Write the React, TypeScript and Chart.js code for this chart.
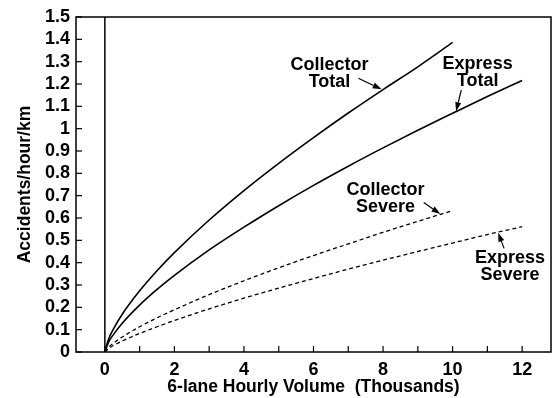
import React, { useEffect, useRef } from 'react';
import { Chart, registerables } from 'chart.js';

Chart.register(...registerables);

// Data
const volume = [0, 0.1, 0.25, 0.5, 1, 1.5, 2, 3, 4, 5, 6, 7, 8, 9, 10, 11, 12];
const collectorTotal = [0, 0.055, 0.104, 0.169, 0.274, 0.364, 0.445, 0.591, 0.723, 0.845, 0.96, 1.07, 1.175, 1.277, 1.386];
const expressTotal = [0, 0.042, 0.079, 0.129, 0.21, 0.28, 0.343, 0.457, 0.559, 0.655, 0.746, 0.832, 0.914, 0.993, 1.069, 1.144, 1.216];
const collectorSevere = [0, 0.02, 0.04, 0.067, 0.113, 0.153, 0.189, 0.257, 0.319, 0.377, 0.432, 0.484, 0.536, 0.585, 0.633];
const expressSevere = [0, 0.014, 0.029, 0.049, 0.083, 0.113, 0.141, 0.193, 0.241, 0.286, 0.329, 0.371, 0.411, 0.45, 0.488, 0.526, 0.561];

const xTicks = [0, 2, 4, 6, 8, 10, 12];
const yTitle = 'Accidents/hour/km';
const xTitle = '6-lane Hourly Volume  (Thousands)';

// Annotation labels (in data coordinates) and arrows
const labelLines = [['Collector', 'Total'], ['Express', 'Total'], ['Collector', 'Severe'], ['Express', 'Severe']];
const labelX = [6.46, 10.72, 8.07, 11.65];
const labelY = [1.285, 1.29, 0.726, 0.42];
const arrowFrom = [[7.29, 1.226], [10.25, 1.173], [9.17, 0.669], [11.48, 0.464]];
const arrowTo = [[7.96, 1.176], [10.1, 1.078], [9.65, 0.618], [11.31, 0.534]];

const FONT = '"Liberation Sans", Arial, Helvetica, sans-serif';

const toPts = (ys: number[]) => ys.map((y, i) => ({ x: volume[i], y }));

const decorPlugin = {
  id: 'decor',
  afterDraw(chart: any) {
    const { ctx, chartArea: a, scales } = chart;
    const xs = scales.x;
    const ys = scales.y;
    ctx.save();
    ctx.strokeStyle = '#000';
    ctx.fillStyle = '#000';
    // frame
    ctx.lineWidth = 1.5;
    ctx.strokeRect(a.left, a.top, a.right - a.left, a.bottom - a.top);
    // vertical line at x = 0
    const x0 = xs.getPixelForValue(0);
    ctx.beginPath();
    ctx.moveTo(x0, a.top);
    ctx.lineTo(x0, a.bottom);
    ctx.stroke();
    // inward ticks
    ctx.lineWidth = 1.2;
    for (let v = 0; v <= 12; v += 1) {
      const px = xs.getPixelForValue(v);
      ctx.beginPath();
      ctx.moveTo(px, a.bottom);
      ctx.lineTo(px, a.bottom - 6);
      ctx.stroke();
    }
    ys.ticks.forEach((t: any) => {
      const py = ys.getPixelForValue(t.value);
      ctx.beginPath();
      ctx.moveTo(a.left, py);
      ctx.lineTo(a.left + 6, py);
      ctx.stroke();
    });
    // labels
    ctx.font = `bold 18px ${FONT}`;
    ctx.textAlign = 'center';
    ctx.textBaseline = 'middle';
    labelLines.forEach((lines, i) => {
      const cx = xs.getPixelForValue(labelX[i]);
      const cy = ys.getPixelForValue(labelY[i]);
      lines.forEach((ln, j) => ctx.fillText(ln, cx, cy + j * 17));
    });
    // arrows
    ctx.lineWidth = 1.2;
    arrowFrom.forEach((f, i) => {
      const t = arrowTo[i];
      const x1 = xs.getPixelForValue(f[0]);
      const y1 = ys.getPixelForValue(f[1]);
      const x2 = xs.getPixelForValue(t[0]);
      const y2 = ys.getPixelForValue(t[1]);
      const ang = Math.atan2(y2 - y1, x2 - x1);
      const hl = 9;
      const hw = 3;
      const bx = x2 - hl * Math.cos(ang);
      const by = y2 - hl * Math.sin(ang);
      ctx.beginPath();
      ctx.moveTo(x1, y1);
      ctx.lineTo(bx, by);
      ctx.stroke();
      ctx.beginPath();
      ctx.moveTo(x2, y2);
      ctx.lineTo(bx + hw * Math.sin(ang), by - hw * Math.cos(ang));
      ctx.lineTo(bx - hw * Math.sin(ang), by + hw * Math.cos(ang));
      ctx.closePath();
      ctx.fill();
    });
    ctx.restore();
  },
};

export default function App() {
  const ref = useRef<HTMLCanvasElement>(null);
  useEffect(() => {
    document.body.style.margin = '0';
    const canvas = ref.current!;
    const line = (data: number[], dashed: boolean) => ({
      data: toPts(data),
      borderColor: '#000',
      borderWidth: dashed ? 1.3 : 1.6,
      borderDash: dashed ? [4, 3] : [],
      pointRadius: 0,
      fill: false,
      cubicInterpolationMode: 'monotone' as const,
    });
    const chart = new Chart(canvas, {
      type: 'line',
      data: {
        datasets: [
          line(collectorTotal, false),
          line(expressTotal, false),
          line(collectorSevere, true),
          line(expressSevere, true),
        ],
      },
      options: {
        animation: false,
        responsive: false,
        devicePixelRatio: 1,
        layout: { padding: { top: 17, right: 4, left: 0, bottom: 0 } },
        plugins: { legend: { display: false }, tooltip: { enabled: false } },
        scales: {
          x: {
            type: 'linear',
            min: -0.83,
            max: 12.83,
            afterBuildTicks: (s: any) => {
              s.ticks = xTicks.map((v) => ({ value: v }));
            },
            afterFit: (s: any) => {
              s.height = 46;
            },
            grid: { display: false, drawTicks: false },
            border: { display: false },
            ticks: {
              color: '#000',
              padding: 7,
              font: { family: FONT, size: 18, weight: 'bold' },
              callback: (v: any) => String(v),
            },
            title: {
              display: true,
              text: xTitle,
              color: '#000',
              font: { family: FONT, size: 17.5, weight: 'bold' },
              padding: { top: 0, bottom: 0 },
            },
          },
          y: {
            type: 'linear',
            min: 0,
            max: 1.5,
            afterFit: (s: any) => {
              s.width = 76;
            },
            grid: { display: false, drawTicks: false },
            border: { display: false },
            ticks: {
              stepSize: 0.1,
              color: '#000',
              padding: 6,
              autoSkip: false,
              font: { family: FONT, size: 18, weight: 'bold' },
              callback: (v: any) => String(Number(Number(v).toFixed(1))),
            },
            title: {
              display: true,
              text: yTitle,
              color: '#000',
              font: { family: FONT, size: 17.5, weight: 'bold' },
              padding: { top: 15, bottom: 0 },
            },
          },
        },
      },
      plugins: [decorPlugin],
    });
    return () => chart.destroy();
  }, []);
  return (
    <div style={{ width: 555, height: 398, background: '#fff' }}>
      <canvas ref={ref} width={555} height={398} style={{ display: 'block' }} />
    </div>
  );
}
